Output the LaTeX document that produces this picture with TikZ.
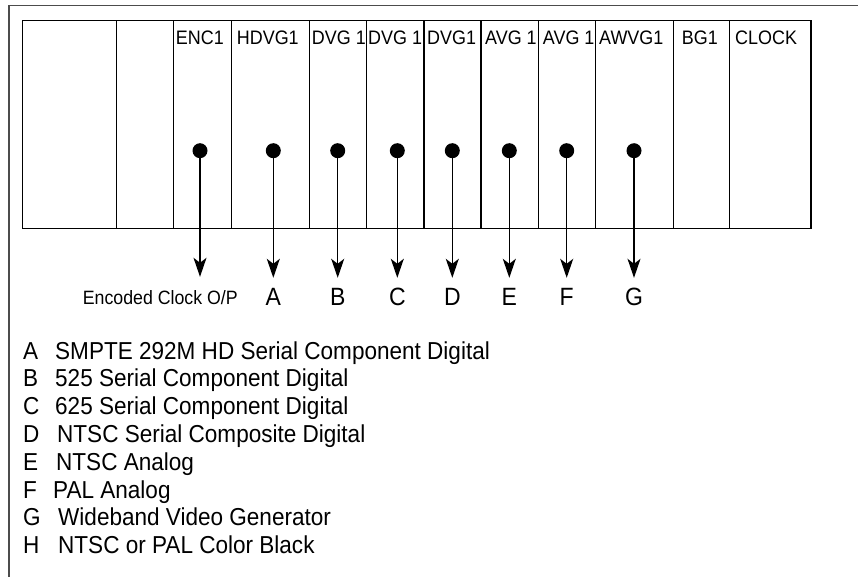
\documentclass[tikz,border=0pt]{standalone}
\usepackage{fontspec}
\setmainfont{Liberation Sans}
\newfontfamily\narrowsans{Liberation Sans}[FakeStretch=0.92]
\usetikzlibrary{positioning, arrows.meta}

\begin{document}
\begin{tikzpicture}[
    x=1pt, y=-1pt,
    frame/.style={draw=black!70, line width=1.2pt},
    rack/.style={draw, line width=1.3pt},
    slotlabel/.style={anchor=base west, inner sep=0pt, font=\narrowsans\fontsize{19.5}{22}\selectfont},
    jack/.style={circle, fill, inner sep=0pt, minimum size=15pt},
    outlabel/.style={anchor=base, inner sep=0pt, text height=17pt, font=\narrowsans\fontsize{25}{28}\selectfont},
    keytext/.style={anchor=base west, inner sep=0pt, font=\narrowsans\fontsize{24.5}{28}\selectfont},
    arrow/.style={-{Stealth[length=19pt, width=13pt, inset=5pt]}, line width=1.3pt, shorten >=10pt}
  ]
  \useasboundingbox (0,0) rectangle (858,577);

  % Outer frame (only top and left edges show)
  \draw [frame] (858,5.5) -- (9,5.5) -- (9,577);

  % Rack and card slots
  \draw [rack] (22.7,20.7) rectangle (811,228.3);
  \foreach \x in {116.7,173.7,231.3,309.7,366.7,424,481,538.7,595.7,673.7,729.7}
    \draw [rack] (\x,20.7) -- (\x,228.3);

  % Card names
  \foreach \x/\name/\txt in {175.7/enc/ENC1, 236.7/hdvg/HDVG1, 311.7/dvga/DVG 1,
      368/dvgb/DVG 1, 427/dvgc/DVG1, 485/avga/AVG 1, 542.7/avgb/AVG 1,
      599/awvg/AWVG1, 681.7/bg/BG1, 735/clock/CLOCK}
    \node [slotlabel] (\name) at (\x,45) {\txt};

  % Outputs
  \node [jack] (jenc) at (200,150.7) {};
  \node [outlabel, anchor=base east, font=\narrowsans\fontsize{19.3}{20}\selectfont] (lenc) at (238,304) {Encoded Clock O/P};
  \draw [arrow] (jenc) -- (jenc |- lenc.north);

  \foreach \x/\k in {273.3/A, 337.7/B, 397.3/C, 452.3/D, 509.3/E, 566.7/F, 634/G} {
    \node [jack] (j\k) at (\x,150.7) {};
    \node [outlabel] (l\k) at (\x,305) {\k};
    \draw [arrow] (j\k) -- (l\k);
  }

  % Key
  \foreach \k/\tx/\txt [count=\i] in {A/55/SMPTE 292M HD Serial Component Digital,
      B/55/525 Serial Component Digital, C/55/625 Serial Component Digital,
      D/57/NTSC Serial Composite Digital, E/56/NTSC Analog, F/53/PAL Analog,
      G/58/Wideband Video Generator, H/58/NTSC or PAL Color Black} {
    \node [keytext] (key\k) at (23,{359+27.8*(\i-1)}) {\k};
    \node [keytext] (desc\k) at (\tx,{359+27.8*(\i-1)}) {\txt};
  }
\end{tikzpicture}
\end{document}
